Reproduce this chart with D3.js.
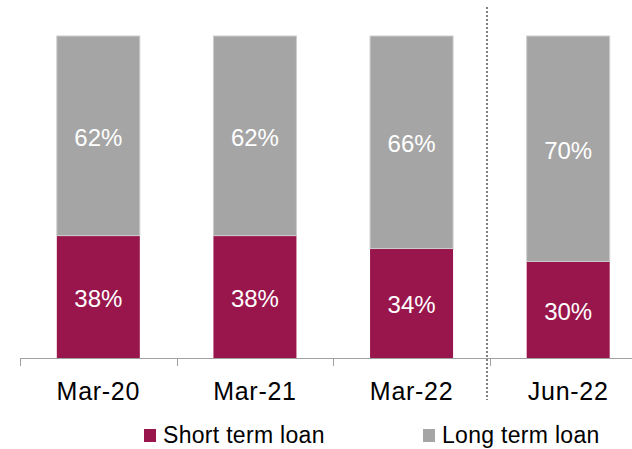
<!DOCTYPE html>
<html>
<head>
<meta charset="utf-8">
<script src="https://cdn.jsdelivr.net/npm/d3@7"></script>
<style>
  html, body { margin: 0; padding: 0; background: #fff; }
  svg { display: block; font-family: "Liberation Sans", Arial, sans-serif; }
</style>
</head>
<body>
<svg id="chart" width="632" height="449"></svg>
<script>
const categories = ["Mar-20", "Mar-21", "Mar-22", "Jun-22"];
const shortTerm = [38, 38, 34, 30];
const longTerm = [62, 62, 66, 70];
const seriesNames = ["Short term loan", "Long term loan"];
const colors = ["#99164c", "#a5a5a5"];

const svg = d3.select("#chart");
const x = d3.scaleBand().domain(categories).range([20, 646.5]).paddingInner(0.47).paddingOuter(0.235);
const y = d3.scaleLinear().domain([0, 100]).range([358, 36]);

const rows = categories.map((c, i) => ({ cat: c, short: shortTerm[i], long: longTerm[i] }));
const stack = d3.stack().keys(["short", "long"])(rows);

stack.forEach((layer, li) => {
  svg.append("g").selectAll("rect").data(layer).join("rect")
    .attr("x", d => x(d.data.cat))
    .attr("width", x.bandwidth())
    .attr("y", d => y(d[1]))
    .attr("height", d => y(d[0]) - y(d[1]))
    .attr("fill", colors[li])
    .attr("stroke", li === 1 ? "#cdcdcd" : "none")
    .attr("stroke-width", 1);
  svg.append("g").selectAll("text").data(layer).join("text")
    .attr("x", d => x(d.data.cat) + x.bandwidth() / 2)
    .attr("y", d => (y(d[0]) + y(d[1])) / 2)
    .attr("dy", "0.42em")
    .attr("text-anchor", "middle")
    .attr("fill", "#fff")
    .attr("font-size", 24)
    .text(d => (d[1] - d[0]) + "%");
});

// axis
const step = x.step();
const axisG = svg.append("g");
axisG.append("line").attr("x1", 20).attr("x2", 646).attr("y1", 358.5).attr("y2", 358.5)
  .attr("stroke", "#a0a0a0").attr("stroke-width", 1);
const tickXs = d3.range(categories.length + 1).map(i => 20 + i * step);
axisG.selectAll("line.tick").data(tickXs).join("line").attr("class", "tick")
  .attr("x1", d => Math.round(d) + 0.5).attr("x2", d => Math.round(d) + 0.5)
  .attr("y1", 358).attr("y2", 366).attr("stroke", "#a0a0a0");
axisG.selectAll("text").data(categories).join("text")
  .attr("x", d => x(d) + x.bandwidth() / 2)
  .attr("y", 399.5)
  .attr("text-anchor", "middle")
  .attr("font-size", 25)
  .attr("letter-spacing", 0.7)
  .attr("fill", "#000")
  .text(d => d);

// dotted separator
svg.append("line").attr("x1", 487).attr("x2", 487).attr("y1", 7).attr("y2", 400)
  .attr("stroke", "#000").attr("stroke-width", 1).attr("stroke-dasharray", "2,2");

// legend
const legendX = [144, 423];
const lg = svg.append("g");
seriesNames.forEach((n, i) => {
  lg.append("rect").attr("x", legendX[i]).attr("y", 429).attr("width", 12).attr("height", 13).attr("fill", colors[i]);
  lg.append("text").attr("x", legendX[i] + 19).attr("y", 443)
    .attr("font-size", 23).attr("letter-spacing", 0.3).attr("fill", "#000").text(n);
});
</script>
</body>
</html>
